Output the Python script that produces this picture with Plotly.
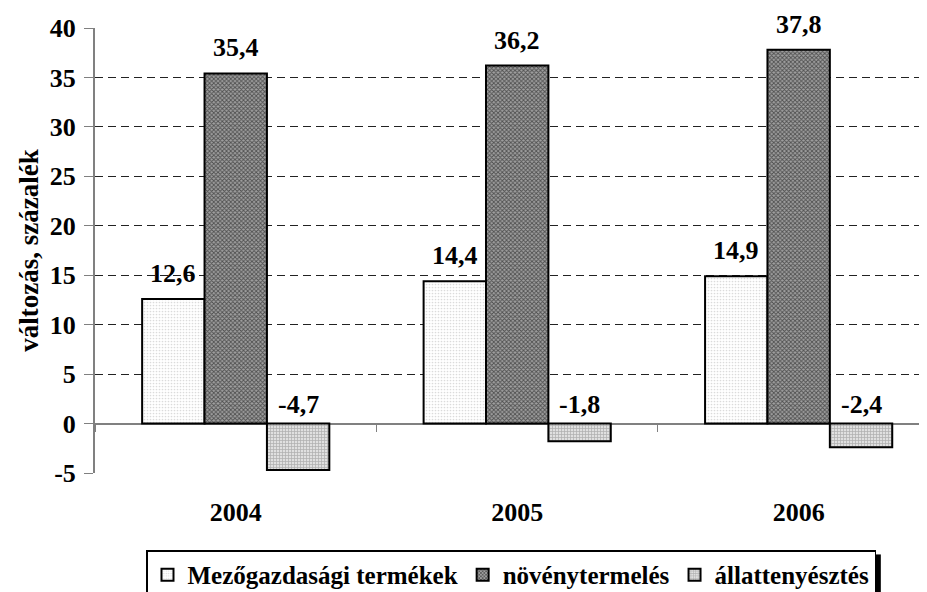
import plotly.graph_objects as go

years = ["2004", "2005", "2006"]
series_names = ["Mezőgazdasági termékek", "növénytermelés", "állattenyésztés"]
mezogazdasag = [12.6, 14.4, 14.9]
novenytermeles = [35.4, 36.2, 37.8]
allattenyesztes = [-4.7, -1.8, -2.4]
y_ticks = [-5, 0, 5, 10, 15, 20, 25, 30, 35, 40]

series_values = [mezogazdasag, novenytermeles, allattenyesztes]

FONT = "Liberation Serif"
BARGAP = 0.335

styles = [
    dict(shape=".", fgcolor="#b8b8b8", bgcolor="#ffffff", size=3, solidity=0.25),
    dict(shape="x", fgcolor="#000000", bgcolor="#a0a0a0", size=3, solidity=0.5),
    dict(shape="+", fgcolor="#7a7a7a", bgcolor="#e0e0e0", size=3, solidity=0.4),
]

fig = go.Figure()
for name, vals, st in zip(series_names, series_values, styles):
    fig.add_bar(
        x=years, y=vals, name="<b>" + name + "</b>",
        marker=dict(color=st["bgcolor"], line=dict(color="black", width=2),
                    pattern=st),
    )

def fmt(v):
    return f"{v:.1f}".replace(".", ",")

w = (1 - BARGAP) / len(series_values)
annotations = []
for j, vals in enumerate(series_values):
    for i, v in enumerate(vals):
        annotations.append(dict(
            x=i + (j - 1) * w, y=max(v, 0), xref="x", yref="y",
            text="<b>" + fmt(v) + "</b>", showarrow=False, yanchor="bottom",
            yshift=9 if v > 0 else 3,
            font=dict(family=FONT, size=26, color="black"),
        ))

LEG_Y = -0.174
ymin, ymax = -5, 40
fig.update_layout(
    width=919, height=584,
    margin=dict(l=87, r=0, t=20, b=119, autoexpand=False),
    paper_bgcolor="white", plot_bgcolor="white",
    barmode="group", bargap=BARGAP, bargroupgap=0,
    font=dict(family=FONT, color="black"),
    annotations=annotations,
    showlegend=True,
    legend=dict(
        orientation="h", x=0.5, xanchor="center", y=LEG_Y, yanchor="top",
        bordercolor="black", borderwidth=1.5, bgcolor="white",
        font=dict(family=FONT, size=25, color="black"),
        itemwidth=30, traceorder="normal",
    ),
    # legend drop shadow on its right side
    shapes=[dict(type="rect", xref="paper", yref="paper",
                 x0=0.9365, x1=0.9445, y0=-0.40, y1=LEG_Y - 0.009,
                 fillcolor="black", line=dict(width=0), layer="below")],
    xaxis=dict(
        type="category", range=[-0.5, 2.456], autorange=False,
        anchor="free", position=(0 - ymin) / (ymax - ymin),
        tickmode="array", tickvals=years, ticktext=["<b>" + y + "</b>" for y in years],
        showline=False, showgrid=False, zeroline=False,
        ticks="outside", tickson="boundaries", ticklen=7, tickcolor="#808080", tickwidth=1,
        ticklabelstandoff=70,
        tickfont=dict(family=FONT, size=26, color="black"),
        automargin=False,
    ),
    yaxis=dict(
        range=[ymin, ymax], autorange=False,
        tickmode="array", tickvals=y_ticks, ticktext=["<b>" + str(t) + "</b>" for t in y_ticks],
        showline=True, linecolor="#808080", linewidth=2,
        ticks="outside", ticklen=9, tickcolor="#808080", tickwidth=1,
        ticklabelstandoff=3,
        showgrid=True, gridcolor="#222222", gridwidth=1, griddash="8px,5px",
        zeroline=True, zerolinecolor="#808080", zerolinewidth=2,
        tickfont=dict(family=FONT, size=26, color="black"),
        title=dict(text="<b>változás, százalék</b>", standoff=3,
                   font=dict(family=FONT, size=27, color="black")),
        automargin=False,
    ),
)

fig.write_html("out.html")
